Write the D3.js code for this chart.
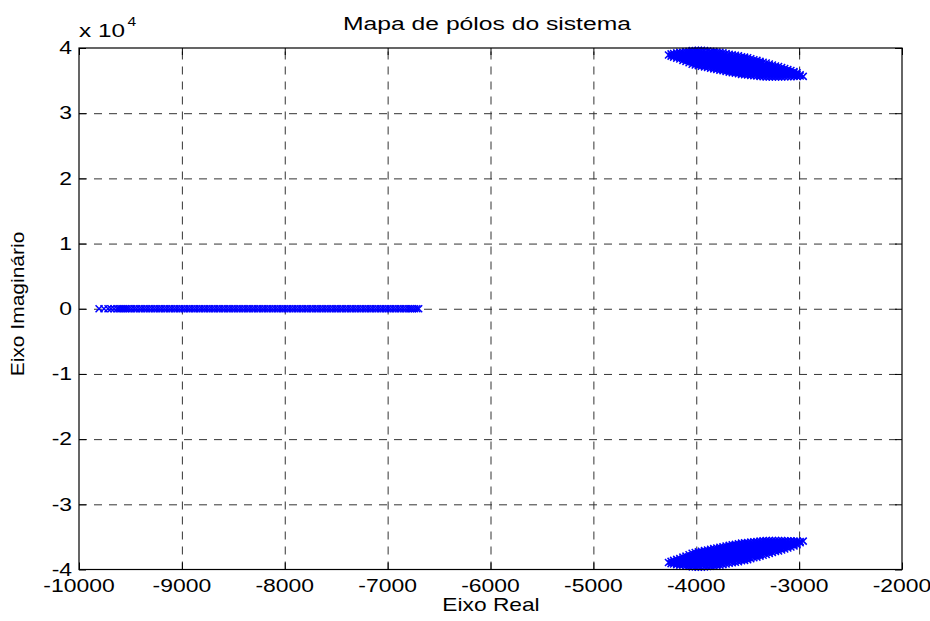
<!doctype html>
<html lang="pt">
  <head>
    <meta charset="utf-8">
    <script src="https://cdn.jsdelivr.net/npm/d3@7/dist/d3.min.js"></script>
    <style>
      body { margin:0; background:#fff }
      svg { display:block; font-family: "Liberation Sans", Arial, Helvetica, sans-serif }
    </style>
    <title>Mapa de pólos do sistema</title>
  </head>
  <body>
    <script>
      // tick values of both axes
      const xTicks = [-10000, -9000, -8000, -7000, -6000, -5000, -4000, -3000, -2000];
      const yTicks = [-40000, -30000, -20000, -10000, 0, 10000, 20000, 30000, 40000];
      const yTickLabels = ["-4", "-3", "-2", "-1", "0", "1", "2", "3", "4"];

      // real poles (imaginary part = 0)
      const realPoles = [-9805, -9757, -9718, -9689, -9659, -9630, -9611, -9591, -9572, -9552, -9533,
        -9512, -9488, -9463, -9440, -9414, -9390, -9366, -9341, -9317, -9292, -9268, -9243, -9219, -9195,
        -9170, -9146, -9121, -9097, -9072, -9048, -9024, -8999, -8975, -8950, -8926, -8901, -8877, -8853,
        -8828, -8804, -8779, -8755, -8730, -8706, -8682, -8657, -8633, -8608, -8584, -8559, -8535, -8511,
        -8486, -8462, -8437, -8413, -8388, -8364, -8340, -8315, -8291, -8266, -8242, -8217, -8193, -8169,
        -8144, -8120, -8095, -8071, -8046, -8022, -7998, -7973, -7949, -7924, -7900, -7875, -7851, -7827,
        -7802, -7778, -7753, -7729, -7704, -7680, -7656, -7631, -7607, -7582, -7558, -7533, -7509, -7485,
        -7460, -7436, -7411, -7387, -7362, -7338, -7314, -7289, -7265, -7240, -7216, -7191, -7167, -7143,
        -7118, -7094, -7069, -7045, -7020, -6996, -6972, -6947, -6923, -6898, -6874, -6849, -6825, -6801,
        -6780, -6760, -6738, -6716, -6698];

      // complex poles, upper half plane: [real part, [imaginary parts]]
      // the lower half plane holds their conjugates
      const upperPoles = [
        [-4270, [38930]],
        [-4245, [38750, 39100]],
        [-4220, [38600, 38900, 39150]],
        [-4190, [38450, 38750, 39050, 39250]],
        [-4160, [38300, 38600, 38900, 39150, 39350]],
        [-4130, [38100, 38450, 38750, 39050, 39350]],
        [-4100, [37950, 38250, 38550, 38850, 39150, 39450]],
        [-4070, [37750, 38050, 38350, 38650, 38950, 39250, 39500]],
        [-4040, [37500, 37850, 38150, 38450, 38750, 39050, 39350, 39600]],
        [-4010, [37400, 37700, 38000, 38300, 38600, 38900, 39200, 39600]],
        [-3980, [37300, 37600, 37900, 38200, 38500, 38800, 39100, 39400, 39650]],
        [-3950, [37200, 37500, 37800, 38100, 38400, 38700, 39000, 39300, 39650]],
        [-3920, [37100, 37400, 37700, 38000, 38300, 38600, 38900, 39200, 39600]],
        [-3890, [37000, 37300, 37600, 37900, 38200, 38500, 38800, 39100, 39550]],
        [-3860, [36900, 37200, 37500, 37800, 38100, 38400, 38700, 39000, 39300, 39500]],
        [-3830, [36800, 37100, 37400, 37700, 38000, 38300, 38600, 38900, 39200, 39450]],
        [-3800, [36700, 37000, 37300, 37600, 37900, 38200, 38500, 38800, 39100, 39400]],
        [-3770, [36600, 36900, 37200, 37500, 37800, 38100, 38400, 38700, 39000, 39350]],
        [-3740, [36500, 36800, 37100, 37400, 37700, 38000, 38300, 38600, 38900, 39250]],
        [-3710, [36400, 36700, 37000, 37300, 37600, 37900, 38200, 38500, 38800, 39150]],
        [-3680, [36300, 36600, 36900, 37200, 37500, 37800, 38100, 38400, 38700, 39050]],
        [-3650, [36200, 36500, 36800, 37100, 37400, 37700, 38000, 38300, 38600, 38950]],
        [-3620, [36150, 36450, 36750, 37050, 37350, 37650, 37950, 38250, 38550, 38900]],
        [-3590, [36050, 36350, 36650, 36950, 37250, 37550, 37850, 38150, 38450, 38800]],
        [-3560, [35950, 36250, 36550, 36850, 37150, 37450, 37750, 38050, 38350, 38650]],
        [-3530, [35900, 36200, 36500, 36800, 37100, 37400, 37700, 38000, 38300, 38600]],
        [-3500, [35850, 36150, 36450, 36750, 37050, 37350, 37650, 37950, 38250, 38500]],
        [-3470, [35800, 36100, 36400, 36700, 37000, 37300, 37600, 37900, 38350]],
        [-3440, [35750, 36050, 36350, 36650, 36950, 37250, 37550, 37850, 38200]],
        [-3410, [35700, 36000, 36300, 36600, 36900, 37200, 37500, 37800, 38100]],
        [-3380, [35650, 35950, 36250, 36550, 36850, 37150, 37450, 37750, 37950]],
        [-3350, [35600, 35900, 36200, 36500, 36800, 37100, 37400, 37800]],
        [-3320, [35550, 35850, 36150, 36450, 36750, 37050, 37350, 37700]],
        [-3290, [35550, 35850, 36150, 36450, 36750, 37050, 37300, 37550]],
        [-3260, [35550, 35850, 36150, 36450, 36750, 37050, 37400]],
        [-3230, [35550, 35850, 36150, 36450, 36750, 37000, 37250]],
        [-3200, [35550, 35850, 36150, 36450, 36750, 37150]],
        [-3170, [35550, 35850, 36150, 36450, 36750, 37000]],
        [-3140, [35600, 35900, 36200, 36500, 36850]],
        [-3110, [35600, 35900, 36200, 36450, 36700]],
        [-3080, [35600, 35900, 36200, 36550]],
        [-3050, [35650, 35950, 36200, 36400]],
        [-3020, [35650, 35950, 36200]],
        [-2990, [35700, 35900]],
        [-2960, [35650]]
      ];

      const W = 930, H = 621;
      let margin = {top:48, left:79, right:28, bottom:51.5};
      let w = W - margin.left - margin.right;
      let h = H - margin.top - margin.bottom;

      let xScale = d3.scaleLinear().domain([-10000, -2000]).range([margin.left, margin.left + w]);
      let yScale = d3.scaleLinear().domain([-40000, 40000]).range([margin.top + h, margin.top]);

      let svg = d3.select("body").append("svg")
        .attr("width", W)
        .attr("height", H);

      svg.append("rect").attr("width", W).attr("height", H).attr("fill", "#fff");

      // dashed grid (not on the box edges)
      let gridX = xTicks.slice(1, -1), gridY = yTicks.slice(1, -1);
      svg.append("g")
        .attr("class", "grid")
        .attr("transform", "translate(0," + (margin.top + h) + ")")
        .call(d3.axisBottom(xScale).tickValues(gridX).tickSize(-h).tickFormat(""));
      svg.append("g")
        .attr("class", "grid")
        .attr("transform", "translate(" + margin.left + ",0)")
        .call(d3.axisLeft(yScale).tickValues(gridY).tickSize(-w).tickFormat(""));
      svg.selectAll(".grid .domain").remove();
      svg.selectAll(".grid line")
        .attr("stroke", "#333")
        .attr("stroke-width", 1)
        .attr("stroke-dasharray", "8,7");

      // inward ticks on all four sides
      const tl = 7;
      let tickAxes = [
        [d3.axisBottom(xScale).tickValues(xTicks), "translate(0," + (margin.top + h) + ")"],
        [d3.axisTop(xScale).tickValues(xTicks), "translate(0," + margin.top + ")"],
        [d3.axisLeft(yScale).tickValues(yTicks), "translate(" + margin.left + ",0)"],
        [d3.axisRight(yScale).tickValues(yTicks), "translate(" + (margin.left + w) + ",0)"]
      ];
      tickAxes.forEach(function(a) {
        svg.append("g")
          .attr("class", "ticks")
          .attr("transform", a[1])
          .call(a[0].tickSize(-tl).tickFormat(""));
      });
      svg.selectAll(".ticks .domain").remove();
      svg.selectAll(".ticks line").attr("stroke", "#000").attr("stroke-width", 1);

      // poles
      let marker = "M-3.5,-3.5L3.5,3.5M-3.5,3.5L3.5,-3.5";
      let poles = realPoles.map(function(r) { return [r, 0]; });
      upperPoles.forEach(function(c) {
        c[1].forEach(function(im) {
          poles.push([c[0], im]);
          poles.push([c[0], -im]);
        });
      });
      svg.append("g")
        .selectAll("path")
        .data(poles)
        .enter()
        .append("path")
        .attr("d", marker)
        .attr("transform", (d) => "translate(" + xScale(d[0]) + "," + yScale(d[1]) + ")")
        .attr("fill", "none")
        .attr("stroke", "#0000ff")
        .attr("stroke-width", 1.5);

      // axes box
      svg.append("rect")
        .attr("x", margin.left)
        .attr("y", margin.top)
        .attr("width", w)
        .attr("height", h)
        .attr("fill", "none")
        .attr("stroke", "#000")
        .attr("stroke-width", 1.2);

      // text helper: MATLAB-style text is wider than Arial, stretch along the baseline
      const fs = 17.5;
      function addText(x, y, str, anchor, stretch, rot, size) {
        return svg.append("text")
          .attr("transform", "translate(" + x + "," + y + ")" + (rot ? " rotate(" + rot + ")" : "") + " scale(" + stretch + ",1)")
          .attr("text-anchor", anchor)
          .attr("font-size", (size || fs) + "px")
          .attr("fill", "#000")
          .text(str);
      }

      xTicks.forEach(function(t) {
        addText(xScale(t), margin.top + h + 22, String(t), "middle", 1.31);
      });
      yTicks.forEach(function(t, i) {
        addText(margin.left - 7, yScale(t) + 6.2, yTickLabels[i], "end", 1.31);
      });

      addText(79, 36.7, "x 10", "start", 1.39);
      addText(127.5, 26, "4", "start", 1.3, 0, 12);

      addText(487, 30, "Mapa de pólos do sistema", "middle", 1.41);
      addText(491, 611, "Eixo Real", "middle", 1.3);
      addText(23.5, 304, "Eixo Imaginário", "middle", 1.2, -90);
    </script>
  </body>
</html>
